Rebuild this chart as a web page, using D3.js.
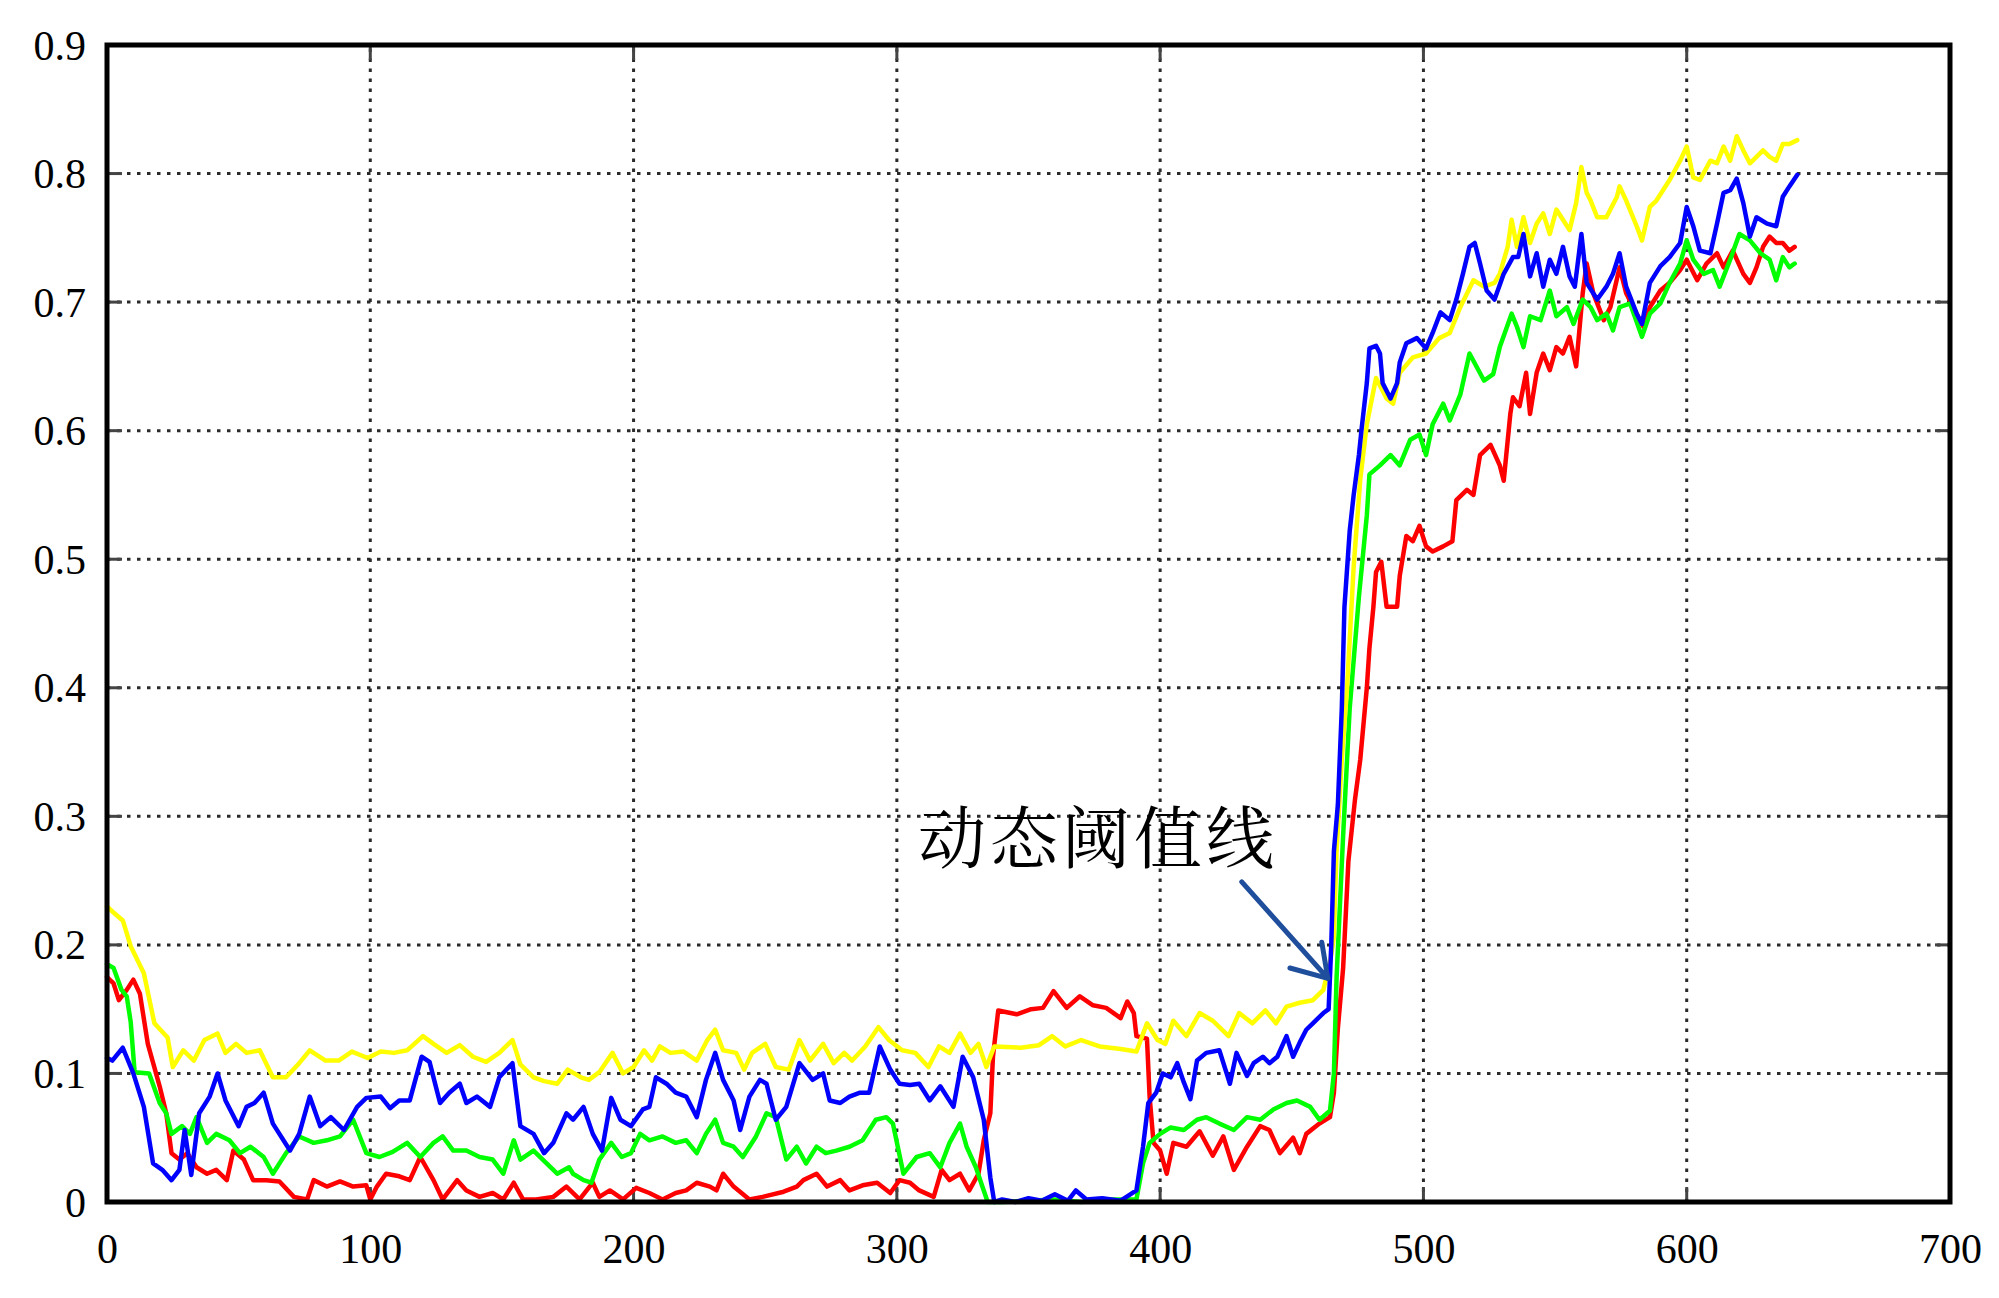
<!DOCTYPE html>
<html>
<head>
<meta charset="utf-8">
<script src="https://cdn.jsdelivr.net/npm/d3@7"></script>
<style>
body{margin:0;background:#fff}
svg{display:block}
</style>
</head>
<body>
<svg id="chart" width="1999" height="1298"></svg>
<script>
const xTicks = [0,100,200,300,400,500,600,700];
const yTicks = [0,0.1,0.2,0.3,0.4,0.5,0.6,0.7,0.8,0.9];

const yellowData = [
[0,0.230],[2,0.226],[6,0.219],[9,0.199],[14,0.178],[18,0.139],[23,0.128],[25,0.105],[29,0.118],[33,0.110],[37,0.126],[42,0.131],[45,0.116],[49,0.123],[53,0.116],[58,0.118],[63,0.097],[68,0.097],[73,0.108],[77,0.118],[83,0.110],[88,0.110],[93,0.117],[99,0.112],[104,0.117],[109,0.116],[114,0.118],[120,0.129],[124,0.123],[129,0.116],[134,0.122],[139,0.113],[144,0.109],[149,0.116],[154,0.126],[157,0.107],[162,0.097],[166,0.094],[171,0.092],[175,0.103],[180,0.097],[183,0.095],[187,0.101],[192,0.116],[196,0.100],[200,0.105],[204,0.118],[207,0.110],[210,0.121],[214,0.116],[219,0.117],[224,0.110],[228,0.126],[231,0.134],[234,0.118],[239,0.116],[242,0.103],[245,0.116],[250,0.123],[254,0.105],[259,0.103],[263,0.126],[267,0.110],[272,0.123],[276,0.108],[280,0.116],[283,0.110],[288,0.121],[293,0.136],[297,0.126],[302,0.118],[307,0.116],[312,0.105],[316,0.121],[320,0.116],[324,0.131],[328,0.116],[331,0.123],[334,0.105],[337,0.121],[347,0.120],[354,0.122],[359,0.129],[364,0.121],[370,0.126],[377,0.121],[385,0.119],[391,0.117],[395,0.139],[399,0.126],[402,0.123],[405,0.141],[410,0.129],[415,0.147],[420,0.141],[426,0.129],[430,0.147],[435,0.139],[440,0.149],[444,0.139],[448,0.152],[453,0.155],[458,0.157],[462,0.165],[464.5,0.186],[466,0.206],[467,0.273],[469,0.344],[471,0.400],[473.5,0.494],[476,0.562],[478.5,0.605],[482,0.641],[486,0.625],[488.5,0.621],[491,0.645],[496,0.657],[501,0.660],[506,0.672],[510,0.676],[514,0.696],[519,0.717],[523,0.712],[527,0.715],[529,0.722],[532,0.743],[533.5,0.764],[535.5,0.743],[538,0.766],[540.5,0.746],[543,0.761],[545.5,0.769],[548,0.753],[550.5,0.772],[553,0.764],[555.5,0.756],[558,0.777],[560,0.805],[562,0.785],[563.5,0.779],[566,0.766],[569.5,0.766],[573.5,0.782],[574.5,0.790],[577,0.779],[581,0.759],[583,0.748],[586,0.774],[588.5,0.779],[591,0.787],[593.5,0.795],[597.5,0.810],[600,0.821],[602.5,0.797],[605,0.795],[609,0.810],[611.5,0.808],[614,0.821],[616.5,0.810],[619,0.829],[621.5,0.818],[624,0.808],[626.5,0.813],[629,0.818],[631.5,0.813],[634,0.810],[636.5,0.823],[639,0.823],[642,0.826]
];

const blueData = [
[0,0.112],[2,0.110],[6,0.120],[10,0.100],[14,0.074],[17.5,0.030],[21,0.025],[24.5,0.017],[27.5,0.025],[29.5,0.056],[32,0.021],[35,0.069],[39,0.082],[42,0.100],[45,0.079],[50,0.059],[53,0.074],[56,0.077],[59.5,0.085],[63,0.061],[69.5,0.040],[73,0.053],[77,0.082],[81,0.059],[85,0.066],[90,0.056],[95,0.074],[98.5,0.081],[104,0.082],[107.5,0.073],[111,0.079],[115,0.079],[119.5,0.113],[122.5,0.109],[126.5,0.077],[130,0.085],[134,0.092],[136.5,0.077],[140.5,0.082],[145.5,0.074],[149,0.097],[154,0.108],[157,0.059],[162,0.053],[166,0.038],[169.5,0.046],[174.5,0.069],[177,0.064],[181,0.074],[184.5,0.053],[188,0.040],[191.5,0.081],[195,0.064],[199,0.059],[203.5,0.072],[206,0.074],[208.5,0.097],[212.5,0.092],[216,0.085],[220,0.082],[224,0.066],[227.5,0.095],[231,0.116],[234,0.095],[238,0.079],[240.5,0.056],[244,0.082],[248,0.095],[250.5,0.092],[254,0.064],[258,0.074],[263,0.108],[268,0.095],[272,0.100],[274.5,0.079],[278.5,0.077],[282,0.082],[286,0.085],[289.5,0.085],[293.5,0.121],[297.5,0.103],[301,0.092],[305,0.091],[308.5,0.092],[312.5,0.079],[316.5,0.090],[321.5,0.074],[325,0.113],[329,0.097],[333,0.064],[335.5,0.019],[337,0.000],[340,0.002],[345,0.000],[350,0.003],[355,0.001],[360,0.006],[365,0.001],[368,0.009],[372,0.002],[378,0.003],[385,0.001],[391,0.009],[393.5,0.043],[395.5,0.077],[398.5,0.085],[401,0.100],[404,0.097],[406.5,0.108],[409,0.093],[411.5,0.080],[414,0.110],[417.5,0.116],[422.5,0.118],[426.5,0.092],[429,0.116],[433,0.098],[435.5,0.108],[439,0.113],[441.5,0.108],[444.5,0.113],[448,0.129],[450.5,0.113],[453,0.124],[455.5,0.134],[458,0.139],[462,0.147],[464,0.150],[465,0.200],[466,0.273],[467.5,0.309],[469,0.384],[470,0.463],[472,0.522],[473.5,0.550],[475.5,0.581],[476.5,0.601],[478.5,0.637],[479.5,0.664],[482,0.666],[483.5,0.660],[484.5,0.637],[487.5,0.625],[490,0.637],[491,0.653],[493.5,0.668],[497.5,0.672],[501,0.664],[503.5,0.676],[506.5,0.692],[510,0.686],[512.5,0.702],[515,0.722],[517.5,0.743],[519.5,0.746],[521.5,0.730],[524,0.709],[527,0.702],[530.5,0.722],[534,0.735],[536,0.735],[538,0.753],[540.5,0.720],[543,0.738],[545.5,0.712],[548,0.733],[550.5,0.722],[553,0.743],[555.5,0.720],[557.5,0.712],[560,0.753],[562,0.715],[566,0.702],[569.5,0.712],[572,0.722],[574.5,0.738],[577,0.712],[581,0.691],[583,0.683],[586,0.715],[590,0.728],[593.5,0.735],[597.5,0.746],[600,0.774],[602.5,0.759],[605,0.740],[609,0.738],[611.5,0.761],[614,0.785],[616.5,0.787],[619,0.796],[621.5,0.777],[624,0.751],[626.5,0.766],[630.5,0.761],[634,0.759],[636.5,0.782],[639,0.790],[642,0.799]
];

const greenData = [
[0,0.185],[2.5,0.182],[5.5,0.165],[7.5,0.160],[9,0.140],[10.5,0.101],[16,0.100],[20,0.077],[22.5,0.069],[24.5,0.053],[28.5,0.059],[31.5,0.053],[34,0.066],[38,0.046],[41.5,0.053],[46.5,0.048],[50.5,0.038],[54.5,0.043],[59.5,0.035],[63,0.022],[68,0.038],[73,0.051],[78.5,0.046],[83.5,0.048],[88.5,0.051],[93.5,0.064],[98.5,0.038],[103.5,0.035],[108.5,0.039],[114,0.046],[119,0.035],[124,0.046],[127.5,0.051],[131.5,0.040],[136.5,0.040],[141.5,0.035],[146.5,0.033],[150.5,0.022],[154.5,0.048],[157,0.033],[162,0.040],[165.5,0.033],[171,0.022],[175.5,0.027],[177,0.022],[181,0.017],[184,0.015],[187,0.033],[191.5,0.046],[195.5,0.035],[199,0.038],[202.5,0.053],[206,0.048],[211,0.051],[216,0.046],[220,0.048],[224,0.038],[227.5,0.053],[231,0.064],[234,0.046],[238,0.043],[241.5,0.035],[246.5,0.051],[250.5,0.069],[254,0.066],[258,0.033],[262,0.043],[265.5,0.030],[269.5,0.043],[273,0.038],[277,0.040],[282,0.043],[287,0.048],[292,0.064],[296,0.066],[298.5,0.061],[302.5,0.022],[307.5,0.035],[312.5,0.038],[316.5,0.027],[320,0.046],[324,0.061],[326.5,0.043],[330,0.027],[333,0.009],[334.5,0.000],[340,0.000],[350,0.001],[360,0.002],[370,0.000],[380,0.002],[391,0.002],[393.5,0.030],[396,0.046],[400,0.053],[404,0.058],[409,0.056],[414,0.064],[417.5,0.066],[422.5,0.061],[428,0.056],[433,0.066],[438,0.064],[443,0.072],[448,0.077],[452,0.079],[457,0.074],[460.5,0.064],[464.5,0.071],[466,0.100],[467,0.174],[469.5,0.285],[472,0.384],[475.5,0.471],[478.5,0.534],[479.5,0.566],[483.5,0.573],[487.5,0.581],[491,0.573],[495,0.593],[498.5,0.597],[501,0.581],[503.5,0.605],[507.5,0.621],[510,0.608],[514,0.628],[517.5,0.660],[523,0.639],[526.5,0.644],[529,0.665],[533.5,0.691],[535.5,0.681],[538,0.665],[540.5,0.689],[544.5,0.686],[548,0.709],[550.5,0.689],[554.5,0.696],[557,0.683],[560.5,0.702],[563.5,0.696],[566,0.686],[569.5,0.691],[572,0.678],[574.5,0.696],[578.5,0.699],[583,0.673],[586,0.691],[590,0.699],[593.5,0.715],[597.5,0.730],[600,0.748],[602.5,0.733],[606.5,0.722],[610,0.725],[612.5,0.712],[616.5,0.733],[620,0.753],[624,0.748],[628,0.738],[631.5,0.733],[634,0.717],[636.5,0.735],[639,0.727],[641,0.730]
];

const redData = [
[0,0.175],[2.5,0.170],[4.5,0.157],[7.5,0.165],[10,0.173],[12.5,0.162],[15.5,0.123],[20,0.090],[22.5,0.069],[24.5,0.038],[27.5,0.033],[30.5,0.038],[34,0.027],[38,0.022],[41.5,0.025],[45.5,0.017],[48,0.040],[52,0.033],[55.5,0.017],[60.5,0.017],[65.5,0.016],[71,0.004],[76,0.002],[78.5,0.017],[83.5,0.012],[88.5,0.016],[93.5,0.012],[98.5,0.013],[100,0.002],[102.5,0.012],[106,0.022],[111,0.020],[115,0.017],[119,0.035],[124,0.017],[127.5,0.002],[133,0.017],[136.5,0.009],[141.5,0.004],[146.5,0.007],[150.5,0.002],[154.5,0.015],[158,0.002],[163,0.002],[169.5,0.004],[174.5,0.012],[179.5,0.002],[184.5,0.015],[187,0.004],[191,0.009],[196,0.002],[201,0.011],[206,0.007],[211,0.002],[216,0.007],[220,0.009],[224,0.015],[229,0.012],[231.5,0.009],[234,0.022],[238,0.012],[244,0.002],[249,0.004],[257,0.008],[262,0.012],[264.5,0.017],[269.5,0.022],[273.5,0.012],[278.5,0.017],[282,0.009],[287,0.013],[292.5,0.015],[297.5,0.007],[301,0.017],[305,0.015],[308.5,0.009],[314,0.004],[317,0.025],[320,0.017],[324,0.022],[327.5,0.009],[331,0.022],[333,0.048],[335.5,0.069],[336.5,0.113],[338.5,0.149],[345.5,0.146],[351,0.150],[355.5,0.151],[359.5,0.164],[364.5,0.151],[369.5,0.160],[374.5,0.153],[379.5,0.151],[385,0.143],[387.5,0.156],[390,0.147],[391,0.129],[395,0.127],[396,0.082],[397.5,0.046],[400,0.040],[402.5,0.022],[405,0.046],[410,0.043],[415,0.055],[420,0.036],[424,0.051],[428,0.025],[433,0.043],[438,0.059],[441.5,0.056],[445.5,0.038],[450.5,0.050],[453,0.038],[455.5,0.053],[460.5,0.061],[464.5,0.066],[466,0.085],[467.5,0.135],[469.5,0.182],[471.5,0.265],[474,0.313],[476,0.344],[478.5,0.400],[479.5,0.431],[481,0.463],[482,0.490],[484,0.498],[486,0.463],[490,0.463],[491,0.487],[493.5,0.518],[496,0.514],[498.5,0.526],[501,0.510],[503.5,0.506],[507.5,0.510],[511,0.514],[512.5,0.546],[516.5,0.554],[519,0.550],[521.5,0.581],[525.5,0.589],[529,0.573],[530.5,0.561],[533,0.613],[534,0.626],[536.5,0.619],[539,0.645],[540.5,0.613],[543,0.645],[545.5,0.660],[548,0.647],[550.5,0.665],[553,0.660],[555.5,0.673],[558,0.650],[560.5,0.707],[562,0.730],[564.5,0.707],[568.5,0.686],[571,0.696],[574.5,0.727],[577,0.707],[581,0.691],[583.5,0.681],[586,0.696],[590,0.709],[593.5,0.715],[597.5,0.725],[600,0.733],[604,0.717],[607.5,0.730],[611.5,0.738],[614,0.727],[617.5,0.740],[621.5,0.722],[624,0.715],[626.5,0.727],[629,0.743],[631.5,0.751],[634,0.746],[636.5,0.746],[639,0.740],[641,0.743]
];

const seriesOrder = [
  {name: "red", color: "#ff0000", data: redData},
  {name: "green", color: "#00ff00", data: greenData},
  {name: "yellow", color: "#ffff00", data: yellowData},
  {name: "blue", color: "#0000ff", data: blueData}
];

const annoLabel = "动态阈值线";
const annoLabelAt = [308, 0.287];
const arrowShaft = [[431, 0.249], [463.7, 0.174]];
const arrowHead = [[461.4, 0.202], [463.7, 0.174], [449.3, 0.182]];

const svg = d3.select("#chart");
const x = d3.scaleLinear().domain([0, 700]).range([107, 1950]);
const y = d3.scaleLinear().domain([0, 0.9]).range([1202, 45]);

// gridlines
const grid = svg.append("g").attr("stroke", "#2a2a2a").attr("stroke-width", 3).attr("stroke-dasharray", "3.5,6.5");
grid.selectAll("line.vx").data(xTicks.slice(1, -1)).join("line").attr("class", "vx")
  .attr("x1", d => x(d)).attr("x2", d => x(d)).attr("y1", y(0)).attr("y2", y(0.9));
grid.selectAll("line.hy").data(yTicks.slice(1, -1)).join("line").attr("class", "hy")
  .attr("x1", x(0)).attr("x2", x(700)).attr("y1", d => y(d)).attr("y2", d => y(d));

// inner ticks
const tk = svg.append("g").attr("stroke", "#444").attr("stroke-width", 3);
xTicks.slice(1, -1).forEach(d => {
  tk.append("line").attr("x1", x(d)).attr("x2", x(d)).attr("y1", y(0)).attr("y2", y(0) - 15);
  tk.append("line").attr("x1", x(d)).attr("x2", x(d)).attr("y1", y(0.9)).attr("y2", y(0.9) + 15);
});
yTicks.slice(1, -1).forEach(d => {
  tk.append("line").attr("x1", x(0)).attr("x2", x(0) + 15).attr("y1", y(d)).attr("y2", y(d));
  tk.append("line").attr("x1", x(700)).attr("x2", x(700) - 15).attr("y1", y(d)).attr("y2", y(d));
});

// series
const line = d3.line().x(d => x(d[0])).y(d => y(d[1])).curve(d3.curveLinear);
svg.append("g").selectAll("path").data(seriesOrder).join("path")
  .attr("d", s => line(s.data))
  .attr("fill", "none")
  .attr("stroke", s => s.color)
  .attr("stroke-width", 4.5)
  .attr("stroke-linejoin", "round")
  .attr("stroke-linecap", "round");

// frame
svg.append("rect").attr("x", x(0)).attr("y", y(0.9))
  .attr("width", x(700) - x(0)).attr("height", y(0) - y(0.9))
  .attr("fill", "none").attr("stroke", "#000").attr("stroke-width", 5);

// axes labels
const xAxis = d3.axisBottom(x).tickValues(xTicks).tickSize(0).tickFormat(d3.format("d"));
svg.append("g").attr("transform", `translate(0,${y(0)})`).call(xAxis)
  .call(g => g.select(".domain").remove())
  .call(g => g.selectAll("text").attr("y", 61).attr("dy", null)
    .attr("font-family", "'Liberation Serif', 'Times New Roman', serif").attr("font-size", 42).attr("fill", "#000"));

const yAxis = d3.axisLeft(y).tickValues(yTicks).tickSize(0).tickPadding(21)
  .tickFormat(d => d === 0 ? "0" : d.toFixed(1));
svg.append("g").attr("transform", `translate(${x(0)},0)`).call(yAxis)
  .call(g => g.select(".domain").remove())
  .call(g => g.selectAll("text").attr("dy", 14)
    .attr("font-family", "'Liberation Serif', 'Times New Roman', serif").attr("font-size", 42).attr("fill", "#000"));

// annotation
svg.append("text").attr("x", x(annoLabelAt[0])).attr("y", y(annoLabelAt[1]))
  .attr("dominant-baseline", "central")
  .attr("font-family", "'Noto Serif CJK SC', 'Noto Sans CJK SC', sans-serif")
  .attr("font-size", 68).attr("letter-spacing", 4).attr("fill", "#000")
  .text(annoLabel);

const aLine = d3.line().x(d => x(d[0])).y(d => y(d[1]));
svg.append("path").attr("d", aLine(arrowShaft)).attr("fill", "none")
  .attr("stroke", "#1f4e9c").attr("stroke-width", 5).attr("stroke-linecap", "round");
svg.append("path").attr("d", aLine(arrowHead)).attr("fill", "none")
  .attr("stroke", "#1f4e9c").attr("stroke-width", 5).attr("stroke-linecap", "round").attr("stroke-linejoin", "round");
</script>
</body>
</html>
